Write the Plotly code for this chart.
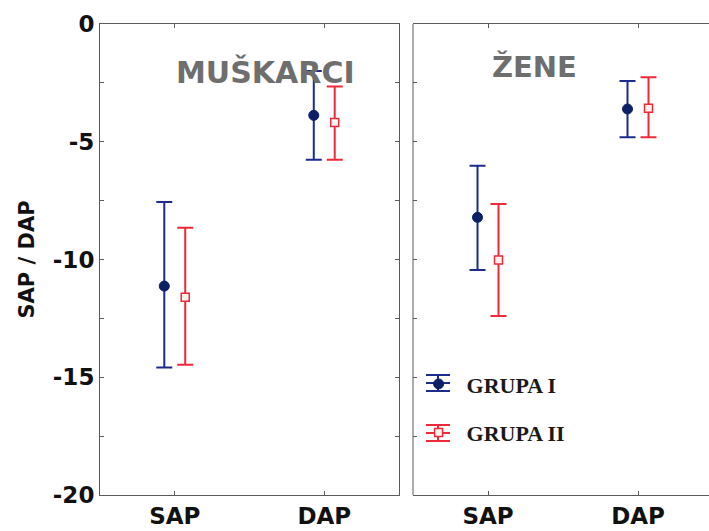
import plotly.graph_objects as go

categories = ["SAP", "DAP"]
panels = ["MUŠKARCI", "ŽENE"]
groups = ["GRUPA I", "GRUPA II"]

# mean values and confidence limits (upper, lower) per panel, per group, per category
mean_values = {
    "MUŠKARCI": {"GRUPA I": [-11.13, -3.88], "GRUPA II": [-11.6, -4.18]},
    "ŽENE": {"GRUPA I": [-8.21, -3.61], "GRUPA II": [-10.02, -3.58]},
}
upper_values = {
    "MUŠKARCI": {"GRUPA I": [-7.56, -2.0], "GRUPA II": [-8.65, -2.65]},
    "ŽENE": {"GRUPA I": [-6.02, -2.42], "GRUPA II": [-7.64, -2.26]},
}
lower_values = {
    "MUŠKARCI": {"GRUPA I": [-14.59, -5.76], "GRUPA II": [-14.47, -5.76]},
    "ŽENE": {"GRUPA I": [-10.45, -4.81], "GRUPA II": [-12.4, -4.81]},
}
y_tick_values = [0, -5, -10, -15, -20]
y_tick_labels = ["0", "-5", "-10", "-15", "-20"]

BLUE = "#1d2c8c"
BLUE_MARK = "#0d1f66"
RED = "#ee2a3a"
GRAY_TITLE = "#6e6e6e"
AXIS = "#5a5a5a"
TICKFONT = dict(family="DejaVu Sans", size=23, color="#111111")

styles = {
    "GRUPA I": dict(color=BLUE, marker=dict(symbol="circle", size=10, color=BLUE_MARK,
                                            line=dict(color=BLUE_MARK, width=1)), offset=-0.07),
    "GRUPA II": dict(color=RED, marker=dict(symbol="square", size=8, color="#fff4ee",
                                             line=dict(color=RED, width=1.5)), offset=0.07),
}

fig = go.Figure()
for pi, panel in enumerate(panels):
    xa = "x" if pi == 0 else "x2"
    ya = "y" if pi == 0 else "y2"
    for g in groups:
        st = styles[g]
        means = mean_values[panel][g]
        ups = upper_values[panel][g]
        lows = lower_values[panel][g]
        fig.add_trace(go.Scatter(
            x=[i + 1 + st["offset"] for i in range(len(categories))],
            y=means,
            mode="markers",
            marker=st["marker"],
            error_y=dict(type="data", symmetric=False,
                         array=[u - m for u, m in zip(ups, means)],
                         arrayminus=[m - l for m, l in zip(means, lows)],
                         color=st["color"], thickness=2, width=8),
            name="<b>%s</b>" % g,
            legendgroup=g,
            showlegend=(pi == 1),
            xaxis=xa, yaxis=ya,
        ))

W, H = 709, 531
ML, MR, MT, MB = 100, 0, 24, 36
pw = W - ML - MR
ph = H - MT - MB
left_dom = [0, 299 / pw]
right_dom = [313 / pw, 1.0]

xcommon = dict(tickmode="array", tickvals=[1, 2], ticktext=["<b>%s</b>" % c for c in categories],
               ticks="inside", ticklen=4, tickcolor=AXIS, showline=True, linecolor=AXIS,
               linewidth=1, mirror="ticks", showgrid=False, zeroline=False,
               tickfont=TICKFONT)
ycommon = dict(range=[-20, 0], tickmode="array", tickvals=y_tick_values,
               ticktext=["<b>%s</b>" % t for t in y_tick_labels],
               ticks="inside", ticklen=4, tickcolor=AXIS,
               linewidth=1, showgrid=False, zeroline=False,
               minor=dict(dtick=2.5, ticks="inside", ticklen=4, tickcolor=AXIS, showgrid=False))

fig.update_layout(
    width=W, height=H,
    margin=dict(l=ML, r=MR, t=MT, b=MB, autoexpand=False),
    paper_bgcolor="white", plot_bgcolor="white",
    font=dict(family="DejaVu Sans", color="#111111"),
    xaxis=dict(domain=left_dom, range=[0.5, 2.5], **xcommon),
    xaxis2=dict(domain=right_dom, range=[0.5, 0.5 + (right_dom[1] - right_dom[0]) * pw * 2 / 300],
                anchor="y2", **xcommon),
    yaxis=dict(mirror="ticks", showline=True, linecolor=AXIS, tickfont=TICKFONT,
               title=dict(text="<b>SAP / DAP</b>", font=dict(family="DejaVu Sans", size=21, color="#111111"),
                          standoff=12),
               **ycommon),
    yaxis2=dict(anchor="x2", showticklabels=False, showline=False, mirror=False, **ycommon),
    legend=dict(x=0.51, y=0.28, xanchor="left", yanchor="top",
                font=dict(family="Liberation Serif", size=22, color="#1a1a1a"),
                bgcolor="rgba(0,0,0,0)", tracegroupgap=17, itemwidth=46),
    showlegend=True,
)

# left border of the right panel (frame line only)
fig.add_shape(type="line", xref="x2 domain", yref="y2 domain", x0=0, x1=0, y0=0, y1=1,
              line=dict(color=AXIS, width=1))


# legend glyph decoration (error-bar style symbol behind the legend markers)
def px_x(p):
    return (p - ML) / pw


def px_y(p):
    return 1 - (p - MT) / ph


for cy, col in [(383, BLUE), (433, RED)]:
    for dy in (-8, 0, 8):
        fig.add_shape(type="line", xref="paper", yref="paper", layer="below",
                      x0=px_x(426), x1=px_x(450), y0=px_y(cy + dy), y1=px_y(cy + dy),
                      line=dict(color=col, width=2))
    fig.add_shape(type="line", xref="paper", yref="paper", layer="below",
                  x0=px_x(438), x1=px_x(438), y0=px_y(cy - 8), y1=px_y(cy + 8),
                  line=dict(color=col, width=2))

# panel titles
fig.add_annotation(text="<b>MUŠKARCI</b>", xref="x domain", yref="y domain", x=0.555, y=0.898,
                   xanchor="center", yanchor="middle",
                   showarrow=False, font=dict(family="DejaVu Sans", size=30, color=GRAY_TITLE))
fig.add_annotation(text="<b>ŽENE</b>", xref="x2 domain", yref="y2 domain", x=0.41, y=0.908,
                   xanchor="center", yanchor="middle",
                   showarrow=False, font=dict(family="DejaVu Sans", size=29, color=GRAY_TITLE))

fig.write_html("out.html", config=dict(displayModeBar=False),
               post_script="document.body.style.margin='0';document.body.style.padding='0';")
